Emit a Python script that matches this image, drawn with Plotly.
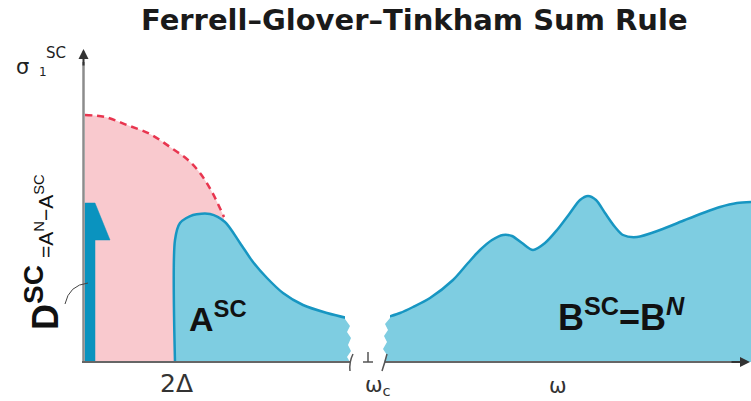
import plotly.graph_objects as go

# ---- spectra (omega in arbitrary units, 2Delta = 9) ----
normal_w = [0, 2.0, 4.2, 6.5, 8.5, 10.3, 11.5, 12.7, 13.9]
normal_sigma = [24.7, 24.5, 23.7, 22.8, 21.5, 20.2, 18.9, 17.0, 14.5]

sc_low_w = [9.0, 9.0, 9.5, 10.8, 12.5, 14.0, 15.5, 16.8, 18.2, 19.8, 21.8, 24.2, 26.2, 27.2]
sc_low_sigma = [0, 12.2, 13.9, 14.7, 14.8, 14.0, 11.9, 10.0, 8.4, 6.9, 5.7, 4.9, 4.4, 4.2]

sc_high_w = [29.5, 30.0, 31.5, 32.8, 34.5, 36.8, 38.3, 39.5, 40.7, 41.8, 42.7, 43.7, 44.8,
             46.0, 47.2, 48.5, 49.5, 50.3, 51.1, 52.0, 53.0, 53.8, 55.2, 57.5, 60.0,
             61.8, 63.5, 65.2, 66.6]
sc_high_sigma = [4.2, 4.4, 4.9, 5.5, 6.4, 8.2, 9.9, 11.2, 12.2, 12.7, 12.6, 11.9, 11.2,
                 11.9, 13.2, 14.9, 16.2, 16.6, 16.2, 14.9, 13.5, 12.7, 12.5, 13.2, 14.2,
                 14.9, 15.5, 15.9, 16.0]

# superfluid delta function at omega = 0
delta_width = 1.0
delta_weight = 15.9
delta_flag = [2.5, 12.2]

gap_2delta = 9.0
omega_c = 28.3
omega_label_pos = 47.3

# axis-break outline (left edge bottom->top, right edge top->bottom)
break_w = [26.5, 26.2, 26.6, 26.3, 26.6, 26.2, 26.5, 26.0, 26.0,
           30.5, 30.5, 30.0, 30.3, 29.9, 30.2, 29.8, 30.2, 29.9]
break_s = [0, 0.5, 1.1, 1.7, 2.4, 3.0, 3.6, 4.3, 6.0,
           6.0, 4.4, 3.8, 3.2, 2.6, 2.0, 1.3, 0.7, 0]

PINK = "#F9C9CE"
RED = "#E8354F"
BLUE_FILL = "#7ECDE1"
BLUE_LINE = "#1796C2"
BAR = "#0A93BF"
SANS = "Liberation Sans, Arial, sans-serif"
WIDE = "DejaVu Sans, sans-serif"

fig = go.Figure()

# normal-state conductivity below the gap (dashed) with pink missing area
fig.add_trace(go.Scatter(x=normal_w, y=normal_sigma, mode="lines", fill="tozeroy",
                         fillcolor=PINK, line=dict(color=RED, width=2.5, dash="7px,5px", shape="spline"),
                         hoverinfo="skip"))

# delta-function weight at omega = 0
bar_x = [0, 0, delta_width, delta_flag[0], delta_width, delta_width, 0]
bar_y = [0, delta_weight, delta_weight, delta_flag[1], delta_flag[1], 0, 0]
fig.add_trace(go.Scatter(x=bar_x, y=bar_y, mode="lines", fill="toself", fillcolor=BAR,
                         line=dict(color=BAR, width=0.5), hoverinfo="skip"))

# superconducting conductivity, low and high frequency parts
fig.add_trace(go.Scatter(x=sc_low_w, y=sc_low_sigma, mode="lines", fill="tozeroy",
                         fillcolor=BLUE_FILL, line=dict(color=BLUE_LINE, width=2.5, shape="spline", smoothing=0.8),
                         hoverinfo="skip"))
fig.add_trace(go.Scatter(x=sc_high_w, y=sc_high_sigma, mode="lines", fill="tozeroy",
                         fillcolor=BLUE_FILL, line=dict(color=BLUE_LINE, width=2.5, shape="spline", smoothing=0.8),
                         hoverinfo="skip"))

# jagged cut through the frequency axis
fig.add_trace(go.Scatter(x=break_w, y=break_s, mode="lines", fill="toself", fillcolor="white",
                         line=dict(color="white", width=0), hoverinfo="skip"))

shapes = []
# y axis
shapes.append(dict(type="line", x0=-0.15, y0=0, x1=-0.15, y1=30.0, xref="x", yref="y",
                   line=dict(color="#8c8c8c", width=2.5)))
# x axis, broken at omega_c
shapes.append(dict(type="line", x0=-0.3, y0=0, x1=26.5, y1=0, xref="x", yref="y",
                   line=dict(color="#666", width=2)))
shapes.append(dict(type="line", x0=30.0, y0=0, x1=65.0, y1=0, xref="x", yref="y",
                   line=dict(color="#666", width=2)))
shapes.append(dict(type="path", path="M 26.8,0.8 Q 26.4,0 26.5,-0.9", xref="x", yref="y",
                   line=dict(color="#555", width=1.5)))
shapes.append(dict(type="path", path="M 30.2,0.8 Q 30.0,0 29.7,-0.9", xref="x", yref="y",
                   line=dict(color="#555", width=1.5)))
shapes.append(dict(type="line", x0=omega_c - 0.5, y0=0, x1=omega_c + 0.5, y1=0, xref="x", yref="y",
                   line=dict(color="#555", width=1.5)))
shapes.append(dict(type="line", x0=omega_c, y0=0, x1=omega_c, y1=1.0, xref="x", yref="y",
                   line=dict(color="#555", width=1.5)))
# leader from the delta-function label to the bar
shapes.append(dict(type="path", path="M -2.0,5.8 Q -1.6,7.7 0.3,7.9", xref="x", yref="y",
                   line=dict(color="#444", width=1)))

ann = []
# arrow heads of the axes
ann.append(dict(x=-0.15, y=31.3, ax=-0.15, ay=29.5, xref="x", yref="y", axref="x", ayref="y",
                text="", showarrow=True, arrowhead=2, arrowsize=1, arrowwidth=2, arrowcolor="#333"))
ann.append(dict(x=66.5, y=0, ax=64.5, ay=0, xref="x", yref="y", axref="x", ayref="y",
                text="", showarrow=True, arrowhead=2, arrowsize=1, arrowwidth=2, arrowcolor="#333"))

def label(x, y, text, size, family=SANS, color="#111", angle=0):
    ann.append(dict(x=x, y=y, xref="x", yref="y", text=text, showarrow=False, textangle=angle,
                    font=dict(family=family, size=size, color=color), xanchor="center", yanchor="middle"))

label(32.9, 34.2, "<b>Ferrell–Glover–Tinkham Sum Rule</b>", 29, family=WIDE, color="#1a1a1a")
label(-6.3, 29.5, "σ", 21, family=WIDE, color="#222")
label(-2.9, 30.9, "SC", 15, family=WIDE, color="#222")
label(-4.2, 29.0, "1", 12, family=WIDE, color="#222")
label(-4.3, 6.4, "<b>D<sup><span style='font-size:28px'>SC</span></sup></b>", 36, angle=-90)
label(-4.1, 14.6, "=A<sup>N</sup>−A<sup>SC</sup>", 21, angle=-90)
label(13.3, 4.6, "<b>A<sup>SC</sup></b>", 34)
label(53.6, 4.7, "<b>B<sup>SC</sup>=B<sup><i>N</i></sup></b>", 36)
label(gap_2delta + 0.1, -2.1, "2Δ", 25, family=WIDE, color="#333")
label(omega_c + 1.0, -2.4, "ω<sub>c</sub>", 21, family=WIDE, color="#333")
label(omega_label_pos, -2.4, "ω", 21, family=WIDE, color="#333")

fig.update_layout(width=751, height=401, margin=dict(l=0, r=0, t=0, b=0),
                  plot_bgcolor="white", paper_bgcolor="white", showlegend=False,
                  xaxis=dict(range=[-8.5, 66.6], visible=False, fixedrange=True),
                  yaxis=dict(range=[-3.9, 36.2], visible=False, fixedrange=True),
                  shapes=shapes, annotations=ann)

fig.write_html("out.html", config=dict(displayModeBar=False))
